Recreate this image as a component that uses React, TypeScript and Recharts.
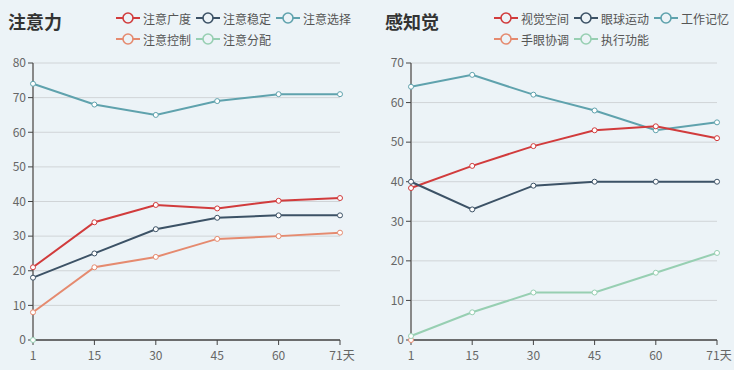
import { LineChart, Line, XAxis, YAxis, CartesianGrid } from "recharts";

const days = [1, 15, 30, 45, 60, 71];

// 注意力
const attnNames = ["注意广度", "注意稳定", "注意选择", "注意控制", "注意分配"];
const attnSpan = [21, 34, 39, 38, 40.2, 41];
const attnStable = [18, 25, 32, 35.3, 36, 36];
const attnSelect = [74, 68, 65, 69, 71, 71];
const attnControl = [8, 21, 24, 29.2, 30, 31];
const attnDivide = [0, null, null, null, null, null];

// 感知觉
const percNames = ["视觉空间", "眼球运动", "工作记忆", "手眼协调", "执行功能"];
const percVisual = [38.4, 44, 49, 53, 54, 51];
const percEye = [40, 33, 39, 40, 40, 40];
const percMemory = [64, 67, 62, 58, 53, 55];
const percHandEye = [0, null, null, null, null, null];
const percExec = [1, 7, 12, 12, 17, 22];

const colors = ["#d13b3c", "#3c5266", "#5fa2ad", "#e58a6f", "#97cfb2"];
const bg = "#ecf3f7";

const attnData = days.map((d, i) => ({
  day: d,
  s0: attnSpan[i],
  s1: attnStable[i],
  s2: attnSelect[i],
  s3: attnControl[i],
  s4: attnDivide[i],
}));

const percData = days.map((d, i) => ({
  day: d,
  s0: percVisual[i],
  s1: percEye[i],
  s2: percMemory[i],
  s3: percHandEye[i],
  s4: percExec[i],
}));

const font = '"Noto Sans CJK SC", "Noto Sans", sans-serif';

const XTick = (props: any) => {
  const { x, y, payload, index } = props;
  const last = index === days.length - 1;
  return (
    <text
      x={last ? x + 2 : x}
      y={y + 13}
      textAnchor="middle"
      fill="#666"
      fontSize={12}
      fontFamily={font}
    >
      {last ? `${payload.value}天` : payload.value}
    </text>
  );
};

const LegendBox = ({ names, left }: { names: string[]; left: number }) => (
  <div style={{ position: "absolute", left, top: 8, width: 250, height: 44 }}>
    {names.map((n, i) => (
      <div
        key={n}
        style={{
          position: "absolute",
          left: (i % 3) * 80,
          top: Math.floor(i / 3) * 21,
          display: "flex",
          alignItems: "center",
          height: 20,
          fontSize: 12,
          color: "#555",
          fontFamily: font,
          whiteSpace: "nowrap",
        }}
      >
        <svg width={24} height={14} style={{ marginRight: 3 }}>
          <line x1={0} y1={7} x2={24} y2={7} stroke={colors[i]} strokeWidth={2} />
          <circle cx={12} cy={7} r={5} fill={bg} stroke={colors[i]} strokeWidth={1.6} />
        </svg>
        {n}
      </div>
    ))}
  </div>
);

interface PanelProps {
  title: string;
  titleLeft: number;
  names: string[];
  legendLeft: number;
  data: any[];
  max: number;
  marginLeft: number;
  marginRight: number;
}

const Panel = ({ title, titleLeft, names, legendLeft, data, max, marginLeft, marginRight }: PanelProps) => {
  const ticks: number[] = [];
  for (let v = 0; v <= max; v += 10) ticks.push(v);
  return (
    <div style={{ position: "relative", width: 367, height: 370 }}>
      <div
        style={{
          position: "absolute",
          left: titleLeft,
          top: 8,
          fontSize: 18,
          fontWeight: "bold",
          color: "#333",
          fontFamily: font,
        }}
      >
        {title}
      </div>
      <LegendBox names={names} left={legendLeft} />
      <LineChart
        width={367}
        height={370}
        data={data}
        margin={{ top: 63, right: marginRight, left: marginLeft, bottom: 0 }}
      >
        <CartesianGrid horizontal vertical={false} stroke="#d0d4d7" />
        <XAxis
          dataKey="day"
          height={30}
          tick={<XTick />}
          tickSize={5}
          axisLine={{ stroke: "#444", strokeWidth: 1.5 }}
          tickLine={{ stroke: "#444" }}
          interval={0}
        />
        <YAxis
          width={30}
          domain={[0, max]}
          ticks={ticks}
          tickSize={5}
          tick={{ fill: "#666", fontSize: 12, fontFamily: font }}
          axisLine={{ stroke: "#888", strokeWidth: 2 }}
          tickLine={{ stroke: "#444" }}
          interval={0}
        />
        {[2, 0, 1, 3, 4].map((i) => (
          <Line
            key={i}
            dataKey={`s${i}`}
            name={names[i]}
            stroke={colors[i]}
            strokeWidth={2}
            dot={{ r: 2.5, fill: "#fff", stroke: colors[i], strokeWidth: 1 }}
            activeDot={false}
            isAnimationActive={false}
          />
        ))}
      </LineChart>
    </div>
  );
};

export default function App() {
  return (
    <div
      style={{
        position: "absolute",
        left: 0,
        top: 0,
        width: 734,
        height: 370,
        background: bg,
        display: "flex",
      }}
    >
      <Panel
        title="注意力"
        titleLeft={8}
        names={attnNames}
        legendLeft={116}
        data={attnData}
        max={80}
        marginLeft={3}
        marginRight={27}
      />
      <Panel
        title="感知觉"
        titleLeft={18}
        names={percNames}
        legendLeft={127}
        data={percData}
        max={70}
        marginLeft={14}
        marginRight={17}
      />
    </div>
  );
}
